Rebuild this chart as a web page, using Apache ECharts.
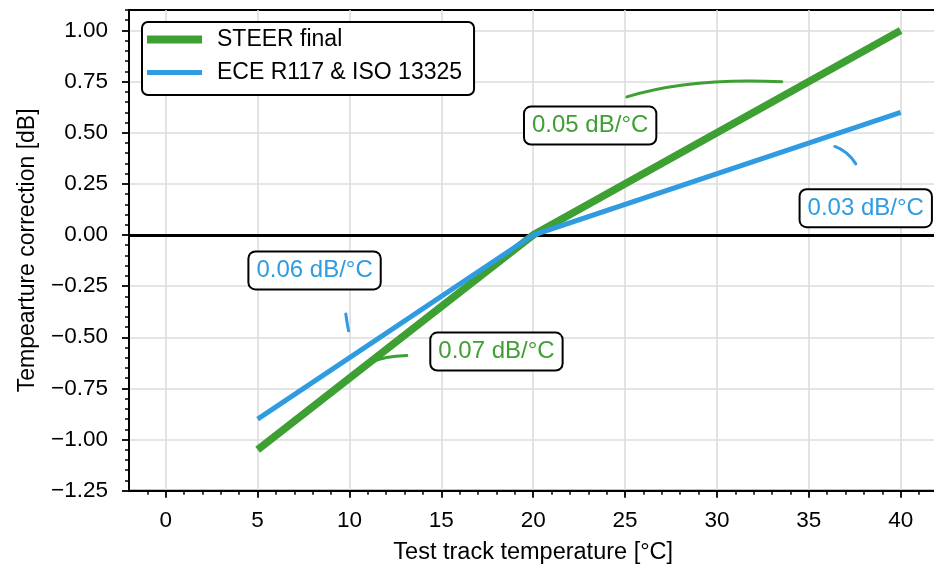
<!DOCTYPE html>
<html>
<head>
<meta charset="utf-8">
<script src="https://cdn.jsdelivr.net/npm/echarts@6/dist/echarts.min.js"></script>
<style>
  html, body { margin: 0; padding: 0; background: #ffffff; }
  #chart { width: 934px; height: 566px; }
</style>
</head>
<body>
<div id="chart"></div>
<script>
// Temperature correction curves (dB) against test track temperature (°C)
const temperatures = [5, 20, 40];
const steerFinal = [-1.05, 0, 1.0];
const eceIso = [-0.9, 0, 0.6];

// Axis tick values
const xTickValues = [0, 5, 10, 15, 20, 25, 30, 35, 40];
const xMinorValues = [-1, 1, 2, 3, 4, 6, 7, 8, 9, 11, 12, 13, 14, 16, 17, 18, 19,
  21, 22, 23, 24, 26, 27, 28, 29, 31, 32, 33, 34, 36, 37, 38, 39, 41];
const yTickValues = [-1.25, -1.0, -0.75, -0.5, -0.25, 0, 0.25, 0.5, 0.75, 1.0];
const yMinorValues = [-1.2, -1.15, -1.1, -1.05, -0.95, -0.9, -0.85, -0.8, -0.7, -0.65,
  -0.6, -0.55, -0.45, -0.4, -0.35, -0.3, -0.2, -0.15, -0.1, -0.05, 0.05, 0.1, 0.15, 0.2,
  0.3, 0.35, 0.4, 0.45, 0.55, 0.6, 0.65, 0.7, 0.8, 0.85, 0.9, 0.95, 1.05, 1.1];

// Slope annotations: text, text anchor and curved leader (start, bend, end) in data units
const slopeLabels = ['0.05 dB/°C', '0.03 dB/°C', '0.06 dB/°C', '0.07 dB/°C'];
const slopeSeries = ['STEER final', 'ECE R117 & ISO 13325', 'ECE R117 & ISO 13325', 'STEER final'];
const labelX = [23.1, 38.1, 8.1, 18.0];
const labelY = [0.535, 0.131, -0.173, -0.570];
const leaderStart = [[25.10, 0.675], [36.42, 0.433], [9.80, -0.386], [11.21, -0.622]];
const leaderBend = [[28.50, 0.770], [37.12, 0.410], [9.86, -0.427], [11.85, -0.592]];
const leaderEnd = [[33.53, 0.749], [37.56, 0.348], [9.95, -0.468], [13.12, -0.589]];

const GREEN = '#3e9f33';
const BLUE = '#2f9be1';
const seriesColor = { 'STEER final': GREEN, 'ECE R117 & ISO 13325': BLUE };
const FONT = '"Liberation Sans", Arial, Helvetica, sans-serif';

const chart = echarts.init(document.getElementById('chart'), null, { renderer: 'canvas' });

function fmtY(v) {
  const s = Math.abs(v).toFixed(2);
  return v < -1e-9 ? '\u2212' + s : s;
}

const axisLineStyle = { color: '#000', width: 1.8 };

// Legend swatches: a bar of the series' line thickness inside a 55×14 box
const greenSwatch = 'path://M0,0L1,0M0,3L55,3L55,11L0,11ZM0,14L1,14';
const blueSwatch = 'path://M0,0L1,0M0,4.5L55,4.5L55,9.5L0,9.5ZM0,14L1,14';

const option = {
  animation: false,
  backgroundColor: '#ffffff',
  grid: {
    left: 129, top: 10, right: -3.4, bottom: 75.3,
    show: true, borderColor: '#000', borderWidth: 1.8, backgroundColor: 'transparent',
    containLabel: false, outerBoundsMode: 'none'
  },
  legend: {
    orient: 'vertical',
    left: 142, top: 22,
    padding: [6, 12, 11, 5],
    itemGap: 10,
    itemWidth: 55,
    itemHeight: 14,
    backgroundColor: '#ffffff',
    borderColor: '#000',
    borderWidth: 2,
    borderRadius: 6,
    textStyle: { fontFamily: FONT, fontSize: 23, color: '#000', padding: [0, 0, 0, 10] },
    data: [
      { name: 'STEER final', icon: greenSwatch, itemStyle: { color: GREEN, borderWidth: 0 } },
      { name: 'ECE R117 & ISO 13325', icon: blueSwatch, itemStyle: { color: BLUE, borderWidth: 0 } }
    ]
  },
  xAxis: [
    {
      type: 'value', min: -2, max: 42, interval: 5,
      position: 'bottom',
      name: 'Test track temperature [°C]',
      nameLocation: 'middle', nameGap: 50,
      nameTextStyle: { fontFamily: FONT, fontSize: 23.5, color: '#000' },
      axisLine: { show: true, onZero: false, lineStyle: axisLineStyle },
      axisTick: { show: true, length: 7, customValues: xTickValues, lineStyle: { color: '#000', width: 1.8 } },
      axisLabel: { show: true, customValues: xTickValues, margin: 19, fontFamily: FONT, fontSize: 22.5, color: '#000' },
      splitLine: { show: true, lineStyle: { color: '#dddddd', width: 1.6 } }
    },
    {
      type: 'value', min: -2, max: 42,
      position: 'bottom', offset: 0,
      axisLine: { show: false, onZero: false },
      axisTick: { show: true, length: 4, customValues: xMinorValues, lineStyle: { color: '#000', width: 1.5 } },
      axisLabel: { show: false },
      splitLine: { show: false }
    }
  ],
  yAxis: [
    {
      type: 'value', min: -1.25, max: 1.1, interval: 0.25,
      position: 'left',
      name: 'Tempearture correction [dB]',
      nameLocation: 'middle', nameGap: 90, nameRotate: 90,
      nameTextStyle: { fontFamily: FONT, fontSize: 23, color: '#000' },
      axisLine: { show: true, onZero: false, lineStyle: axisLineStyle },
      axisTick: { show: true, length: 7, customValues: yTickValues, lineStyle: { color: '#000', width: 1.8 } },
      axisLabel: { show: true, customValues: yTickValues, margin: 21, fontFamily: FONT, fontSize: 22.5, color: '#000', formatter: fmtY },
      splitLine: { show: true, lineStyle: { color: '#dddddd', width: 1.6 } }
    },
    {
      type: 'value', min: -1.25, max: 1.1,
      position: 'left', offset: 0,
      axisLine: { show: false, onZero: false },
      axisTick: { show: true, length: 4, customValues: yMinorValues, lineStyle: { color: '#000', width: 1.5 } },
      axisLabel: { show: false },
      splitLine: { show: false }
    }
  ],
  series: [
    {
      name: 'STEER final',
      type: 'line',
      xAxisIndex: 0, yAxisIndex: 0,
      data: temperatures.map((t, i) => [t, steerFinal[i]]),
      symbol: 'none',
      lineStyle: { color: GREEN, width: 7.5, cap: 'butt', join: 'miter' },
      itemStyle: { color: GREEN },
      z: 3,
      markLine: {
        silent: true, symbol: 'none', label: { show: false },
        lineStyle: { color: '#000', width: 2.8, type: 'solid' },
        data: [{ yAxis: 0 }],
        z: 2
      }
    },
    {
      name: 'ECE R117 & ISO 13325',
      type: 'line',
      xAxisIndex: 0, yAxisIndex: 0,
      data: temperatures.map((t, i) => [t, eceIso[i]]),
      symbol: 'none',
      lineStyle: { color: BLUE, width: 5, cap: 'butt', join: 'miter' },
      itemStyle: { color: BLUE },
      z: 4
    },
    {
      name: 'slopes',
      type: 'custom',
      xAxisIndex: 0, yAxisIndex: 0,
      clip: false,
      silent: true,
      z: 6,
      data: labelX.map((x, i) => [x, labelY[i]]),
      renderItem: function (params, api) {
        const i = params.dataIndex;
        const col = seriesColor[slopeSeries[i]];
        const p0 = api.coord(leaderStart[i]);
        const c = api.coord(leaderBend[i]);
        const p1 = api.coord(leaderEnd[i]);
        const t = api.coord([api.value(0), api.value(1)]);
        return {
          type: 'group',
          children: [
            {
              type: 'bezierCurve',
              shape: { x1: p0[0], y1: p0[1], cpx1: c[0], cpy1: c[1], x2: p1[0], y2: p1[1] },
              style: { stroke: col, lineWidth: 3, fill: null, lineCap: 'round' }
            },
            {
              type: 'text',
              x: t[0], y: t[1],
              style: {
                text: slopeLabels[i],
                fill: col,
                font: '24px ' + FONT,
                align: 'center', verticalAlign: 'middle',
                backgroundColor: '#ffffff',
                borderColor: '#000', borderWidth: 2, borderRadius: 6,
                padding: [6, 7, 6, 7]
              }
            }
          ]
        };
      }
    }
  ]
};

chart.setOption(option);
</script>
</body>
</html>
